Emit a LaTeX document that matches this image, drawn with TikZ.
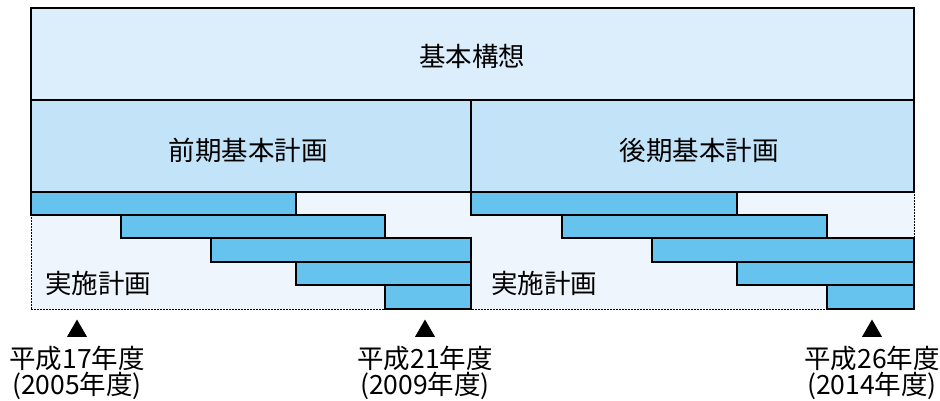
\documentclass[tikz,border=0pt]{standalone}
\usepackage{fontspec}
\setmainfont{Noto Sans CJK JP}
\usetikzlibrary{shapes.geometric}
\definecolor{topc}{HTML}{DCEDFB}
\definecolor{midc}{HTML}{C2E3F8}
\definecolor{barc}{HTML}{66C3EE}
\definecolor{implc}{HTML}{EEF5FC}
\tikzset{
  boxbase/.style={rectangle, anchor=north west, inner sep=0pt, outer sep=0pt, line width=1.3pt, draw=black},
  topbox/.style={boxbase, fill=topc},
  midbox/.style={boxbase, fill=midc},
  barbox/.style={boxbase, fill=barc},
  implbox/.style={boxbase, fill=implc, dash pattern=on 1.5pt off 1.5pt, line width=1pt},
  lbl/.style={font=\fontsize{26.5}{30}\selectfont, inner sep=0pt},
  marker/.style={regular polygon, regular polygon sides=3, fill=black, inner sep=0pt, minimum size=23pt},
}
\begin{document}
\begin{tikzpicture}[x=1pt,y=-1pt]
\useasboundingbox (0,0) rectangle (940,401);
% implementation area
\node[implbox, minimum width=883pt, minimum height=117pt] (impl) at (31,192) {};
% bars left
\node[barbox, minimum width=265pt, minimum height=23pt] (l1) at (31,192) {};
\node[barbox, minimum width=264pt, minimum height=23pt] (l2) at (121,215) {};
\node[barbox, minimum width=260pt, minimum height=24pt] (l3) at (211,238) {};
\node[barbox, minimum width=175pt, minimum height=23pt] (l4) at (296,262) {};
\node[barbox, minimum width=86pt, minimum height=24pt] (l5) at (385,285) {};
% bars right
\node[barbox, minimum width=266pt, minimum height=23pt] (r1) at (471,192) {};
\node[barbox, minimum width=265pt, minimum height=23pt] (r2) at (562,215) {};
\node[barbox, minimum width=262pt, minimum height=24pt] (r3) at (652,238) {};
\node[barbox, minimum width=177pt, minimum height=23pt] (r4) at (737,262) {};
\node[barbox, minimum width=87pt, minimum height=24pt] (r5) at (827,285) {};
% middle row
\node[midbox, minimum width=440pt, minimum height=92pt] (zenki) at (31,100) {};
\node[midbox, minimum width=443pt, minimum height=92pt] (kouki) at (471,100) {};
% top
\node[topbox, minimum width=883pt, minimum height=92pt] (kihon) at (31,8) {};
% texts
\node[lbl] (t1) at (472,56) {基本構想};
\node[lbl] (t2) at (248,150) {前期基本計画};
\node[lbl] (t3) at (699,150) {後期基本計画};
\node[lbl, anchor=west] (t4) at (45,283) {実施計画};
\node[lbl, anchor=west] (t5) at (491,283) {実施計画};
% markers
\node[marker] (m1) at (77,331) {};
\node[marker] (m2) at (425,331) {};
\node[marker] (m3) at (872,331) {};
\node[lbl] (y1) at (77,358) {平成17年度};
\node[lbl] (z1) at (77,386) {(2005年度)};
\node[lbl] (y2) at (425,358) {平成21年度};
\node[lbl] (z2) at (425,386) {(2009年度)};
\node[lbl] (y3) at (872,358) {平成26年度};
\node[lbl] (z3) at (872,386) {(2014年度)};
\end{tikzpicture}
\end{document}
